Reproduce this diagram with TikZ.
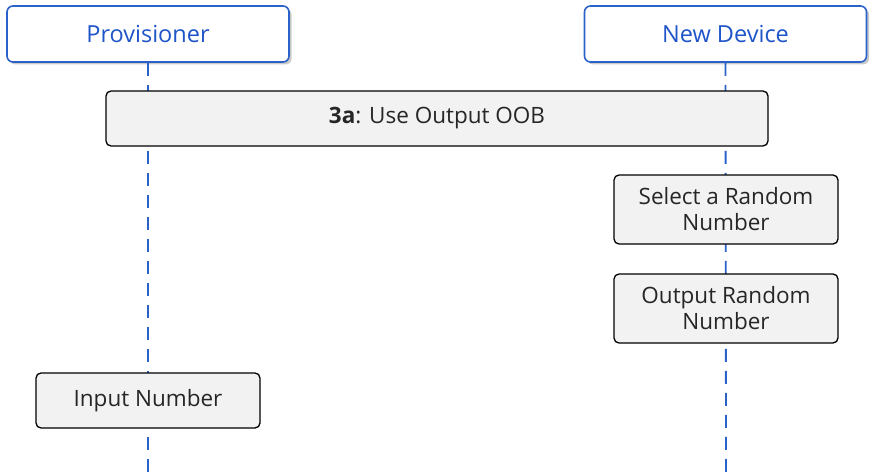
\documentclass[tikz,border=0pt]{standalone}
\usepackage{fontspec}
\setmainfont{Open Sans}
\usetikzlibrary{shadows}
\definecolor{hdrblue}{HTML}{2A62C9}
\definecolor{txtblue}{HTML}{1F55C8}
\definecolor{boxgray}{HTML}{F2F2F2}
\begin{document}
\begin{tikzpicture}[x=1pt,y=-1pt,
  header/.style={draw=hdrblue, line width=1.6pt, fill=white, rounded corners=6pt,
    minimum width=282pt, minimum height=56pt, inner sep=0pt, text=txtblue,
    font=\fontsize{23.5}{26}\selectfont,
    drop shadow={shadow xshift=2.5pt, shadow yshift=-2.5pt, opacity=0.35, fill=black!60}},
  stepbox/.style={draw=black, line width=1.3pt, fill=boxgray, rounded corners=5pt,
    inner sep=0pt, align=center, font=\fontsize{22.5}{26}\selectfont, text=black!85},
  life/.style={draw=hdrblue, line width=1.8pt, dash pattern=on 13pt off 9pt}
]
\useasboundingbox (0,0) rectangle (883,473);
\coordinate (pend) at (148,473);
\coordinate (dend) at (726,473);
\node[header] (prov) at (148,34) {Provisioner};
\node[header] (dev) at (725.5,34) {New Device};
\draw[life] (prov.south) -- (pend);
\draw[life] (dev.south) -- (dend);
\node[stepbox, minimum width=662pt, minimum height=55pt] (oob) at (437,118.5) {\textbf{3a}: Use Output OOB};
\node[stepbox, minimum width=224pt, minimum height=69pt] (sel) at (726,209.5) {Select a Random\\Number};
\node[stepbox, minimum width=224pt, minimum height=69pt] (out) at (726,308.5) {Output Random\\Number};
\node[stepbox, minimum width=224pt, minimum height=55pt] (inp) at (148,400.5) {Input Number};
\end{tikzpicture}
\end{document}
